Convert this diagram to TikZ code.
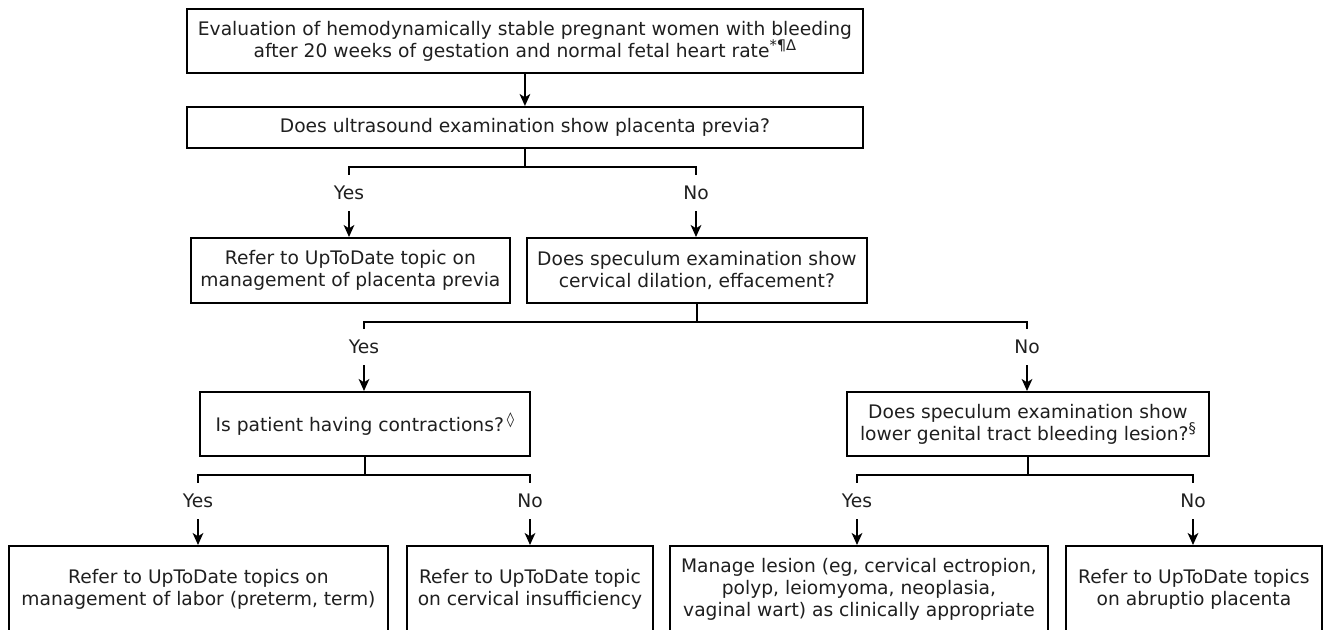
\documentclass[tikz,border=0pt]{standalone}
\usepackage{fontspec}
\setmainfont{DejaVu Sans}
\usetikzlibrary{arrows.meta}
\newcommand{\supmark}[1]{\raisebox{0.36em}{\fontsize{11pt}{11pt}\selectfont #1}}
\begin{document}
\begin{tikzpicture}[x=0.75pt,y=-0.75pt,
  txt/.style={font=\fontsize{14pt}{16.5pt}\selectfont, text=black!88},
  box/.style={txt, draw, line width=1.4pt, inner sep=0pt, align=center, anchor=north west},
  lbl/.style={txt, inner sep=0pt, minimum height=36*0.75pt},
  conn/.style={line width=1.4pt},
  arr/.style={line width=1.4pt, -{Stealth[length=9pt,width=8pt,inset=2.5pt]}}]
\clip (0,0) rectangle (1327,630);
\fill[white] (0,0) rectangle (1327,630);

% boxes
\node[box, minimum width=676*0.75pt, minimum height=64*0.75pt] (top) at (186,8)
  {Evaluation of hemodynamically stable pregnant women with bleeding\\after 20 weeks of gestation and normal fetal heart rate\supmark{*¶Δ}};
\node[box, minimum width=676*0.75pt, minimum height=41*0.75pt] (q1) at (186,106)
  {Does ultrasound examination show placenta previa?};
\node[box, minimum width=319*0.75pt, minimum height=65*0.75pt] (b1) at (190,237)
  {Refer to UpToDate topic on\\management of placenta previa};
\node[box, minimum width=340*0.75pt, minimum height=65*0.75pt] (q2) at (526,237)
  {Does speculum examination show\\cervical dilation, effacement?};
\node[box, minimum width=330*0.75pt, minimum height=64*0.75pt] (q3) at (199,391)
  {Is patient having contractions?\,\supmark{◊}};
\node[box, minimum width=362*0.75pt, minimum height=64*0.75pt] (q4) at (846,391)
  {Does speculum examination show\\lower genital tract bleeding lesion?\supmark{§}};
\node[box, minimum width=379*0.75pt, minimum height=87*0.75pt] (l1) at (8,545)
  {Refer to UpToDate topics on\\management of labor (preterm, term)};
\node[box, minimum width=246*0.75pt, minimum height=87*0.75pt] (l2) at (406,545)
  {Refer to UpToDate topic\\on cervical insufficiency};
\node[box, minimum width=378*0.75pt, minimum height=87*0.75pt] (r1) at (669,545)
  {Manage lesion (eg, cervical ectropion,\\polyp, leiomyoma, neoplasia,\\vaginal wart) as clinically appropriate};
\node[box, minimum width=256*0.75pt, minimum height=87*0.75pt] (r2) at (1065,545)
  {Refer to UpToDate topics\\on abruptio placenta};

% labels
\node[lbl] (yes1) at (349,193) {Yes};
\node[lbl] (no1)  at (696,193) {No};
\node[lbl] (yes2) at (364,347) {Yes};
\node[lbl] (no2)  at (1027,347) {No};
\node[lbl] (yes3) at (198,501) {Yes};
\node[lbl] (no3)  at (530,501) {No};
\node[lbl] (yes4) at (857,501) {Yes};
\node[lbl] (no4)  at (1193,501) {No};

% connectors
\draw[arr] (top.south) -- (q1.north);

\draw[conn] (q1.south) -- ++(0,18) coordinate (f1);
\draw[conn] (yes1.north) |- (f1) -| (no1.north);
\draw[arr] (yes1.south) -- (yes1.south |- b1.north);
\draw[arr] (no1.south) -- (no1.south |- q2.north);

\draw[conn] (q2.south) -- ++(0,18) coordinate (f2);
\draw[conn] (yes2.north) |- (f2) -| (no2.north);
\draw[arr] (yes2.south) -- (yes2.south |- q3.north);
\draw[arr] (no2.south) -- (no2.south |- q4.north);

\draw[conn] (q3.south) -- ++(0,18) coordinate (f3);
\draw[conn] (yes3.north) |- (f3) -| (no3.north);
\draw[arr] (yes3.south) -- (yes3.south |- l1.north);
\draw[arr] (no3.south) -- (no3.south |- l2.north);

\draw[conn] (q4.south) -- ++(0,18) coordinate (f4);
\draw[conn] (yes4.north) |- (f4) -| (no4.north);
\draw[arr] (yes4.south) -- (yes4.south |- r1.north);
\draw[arr] (no4.south) -- (no4.south |- r2.north);
\end{tikzpicture}
\end{document}
